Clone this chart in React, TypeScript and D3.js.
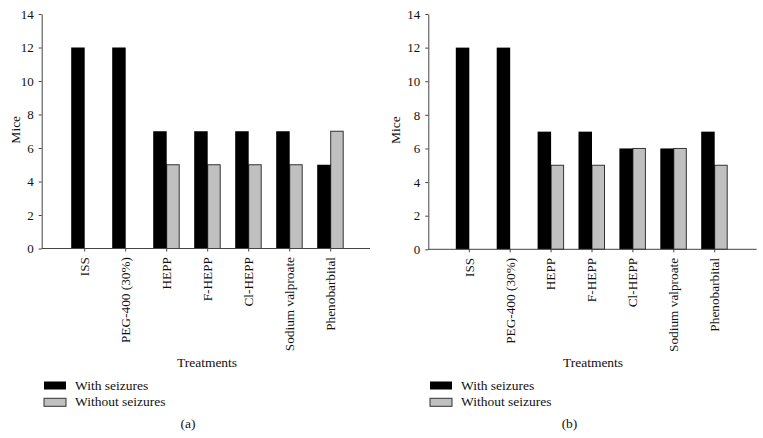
import { useRef, useEffect } from "react";
import * as d3 from "d3";

const categories = [
  "ISS",
  "PEG-400 (30%)",
  "HEPP",
  "F-HEPP",
  "Cl-HEPP",
  "Sodium valproate",
  "Phenobarbital",
];
const withSeizuresA = [12, 12, 7, 7, 7, 7, 5];
const withoutSeizuresA = [0, 0, 5, 5, 5, 5, 7];
const withSeizuresB = [12, 12, 7, 7, 6, 6, 7];
const withoutSeizuresB = [0, 0, 5, 5, 6, 6, 5];
const yTicks = [0, 2, 4, 6, 8, 10, 12, 14];
const legendLabels = ["With seizures", "Without seizures"];

const FONT = "'Liberation Serif', 'DejaVu Serif', serif";
const GRAY = "#c0c0c0";

interface PanelCfg {
  withVals: number[];
  withoutVals: number[];
  letter: string;
  left: number; // x of the y axis
  right: number; // end of x axis
  yTop: number;
  yBottom: number;
  firstCenter: number;
  step: number;
  miceX: number;
  treatX: number;
  letterX: number;
  legendX: number;
}

const panels: PanelCfg[] = [
  {
    withVals: withSeizuresA,
    withoutVals: withoutSeizuresA,
    letter: "(a)",
    left: 41.7,
    right: 370,
    yTop: 14,
    yBottom: 248.5,
    firstCenter: 84.7,
    step: 41,
    miceX: 15,
    treatX: 207,
    letterX: 188,
    legendX: 44,
  },
  {
    withVals: withSeizuresB,
    withoutVals: withoutSeizuresB,
    letter: "(b)",
    left: 428.3,
    right: 756.7,
    yTop: 14,
    yBottom: 249.3,
    firstCenter: 469.3,
    step: 40.9,
    miceX: 395,
    treatX: 593,
    letterX: 569.5,
    legendX: 430,
  },
];

export default function App() {
  const svgRef = useRef<SVGSVGElement>(null);

  useEffect(() => {
    if (!svgRef.current) return;
    const svg = d3.select(svgRef.current);
    svg.selectAll("*").remove();

    const barW = 13.5;

    panels.forEach((p) => {
      const g = svg.append("g");

      const y = d3.scaleLinear().domain([0, 14]).range([p.yBottom, p.yTop]);
      const x = d3
        .scaleBand<string>()
        .domain(categories)
        .range([p.firstCenter - p.step / 2, p.firstCenter + p.step * (categories.length - 0.5)])
        .padding(0);
      const center = (c: string) => x(c)! + x.bandwidth() / 2;

      // bars
      const rows = categories.map((c, i) => ({ c, w: p.withVals[i], wo: p.withoutVals[i] }));
      g.append("g")
        .selectAll("rect")
        .data(rows.filter((d) => d.wo > 0))
        .join("rect")
        .attr("x", (d) => center(d.c))
        .attr("y", (d) => y(d.wo))
        .attr("width", barW - 1)
        .attr("height", (d) => y(0) - y(d.wo))
        .attr("fill", GRAY)
        .attr("stroke", "#333")
        .attr("stroke-width", 1);
      g.append("g")
        .selectAll("rect")
        .data(rows.filter((d) => d.w > 0))
        .join("rect")
        .attr("x", (d) => center(d.c) - barW)
        .attr("y", (d) => y(d.w))
        .attr("width", barW)
        .attr("height", (d) => y(0) - y(d.w))
        .attr("fill", "#000");

      // y axis
      const yAxis = g
        .append("g")
        .attr("transform", `translate(${p.left},0)`)
        .call(d3.axisLeft(y).tickValues(yTicks).tickSize(3).tickPadding(5).tickSizeOuter(0));
      yAxis.select(".domain").attr("stroke", "#444");
      yAxis.selectAll(".tick line").attr("stroke", "#444");
      yAxis.selectAll("text").attr("font-family", FONT).attr("font-size", 13).attr("fill", "#111");

      // x axis
      g.append("line")
        .attr("x1", p.left)
        .attr("x2", p.right)
        .attr("y1", p.yBottom)
        .attr("y2", p.yBottom)
        .attr("stroke", "#444");
      const ticks = g.append("g").selectAll("g").data(categories).join("g")
        .attr("transform", (c) => `translate(${center(c)},${p.yBottom})`);
      ticks.append("line").attr("y2", 3).attr("stroke", "#444");
      ticks
        .append("text")
        .attr("transform", "rotate(-90)")
        .attr("x", -8.5)
        .attr("dy", "0.33em")
        .attr("text-anchor", "end")
        .attr("font-family", FONT)
        .attr("font-size", 13.3)
        .attr("fill", "#111")
        .text((c) => c);

      // axis titles
      g.append("text")
        .attr("transform", `translate(${p.miceX},${(p.yTop + p.yBottom) / 2 - 1.5}) rotate(-90)`)
        .attr("dy", "0.35em")
        .attr("text-anchor", "middle")
        .attr("font-family", FONT)
        .attr("font-size", 13.5)
        .attr("fill", "#111")
        .text("Mice");
      g.append("text")
        .attr("x", p.treatX)
        .attr("y", 367)
        .attr("text-anchor", "middle")
        .attr("font-family", FONT)
        .attr("font-size", 13.5)
        .attr("fill", "#111")
        .text("Treatments");

      // legend
      const legend = g.append("g").selectAll("g").data(legendLabels).join("g")
        .attr("transform", (_, i) => `translate(${p.legendX},${381.5 + i * 16.8})`);
      legend
        .append("rect")
        .attr("width", 22)
        .attr("height", 8)
        .attr("fill", (_, i) => (i === 0 ? "#000" : GRAY))
        .attr("stroke", (_, i) => (i === 0 ? "none" : "#333"));
      legend
        .append("text")
        .attr("x", 31)
        .attr("y", 8)
        .attr("font-family", FONT)
        .attr("font-size", 13.5)
        .attr("fill", "#111")
        .text((d) => d);

      g.append("text")
        .attr("x", p.letterX)
        .attr("y", 428)
        .attr("text-anchor", "middle")
        .attr("font-family", FONT)
        .attr("font-size", 13.5)
        .attr("fill", "#111")
        .text(p.letter);
    });
  }, []);

  return (
    <svg
      ref={svgRef}
      width={763}
      height={438}
      style={{ position: "absolute", left: 0, top: 0, background: "#fff" }}
    />
  );
}
